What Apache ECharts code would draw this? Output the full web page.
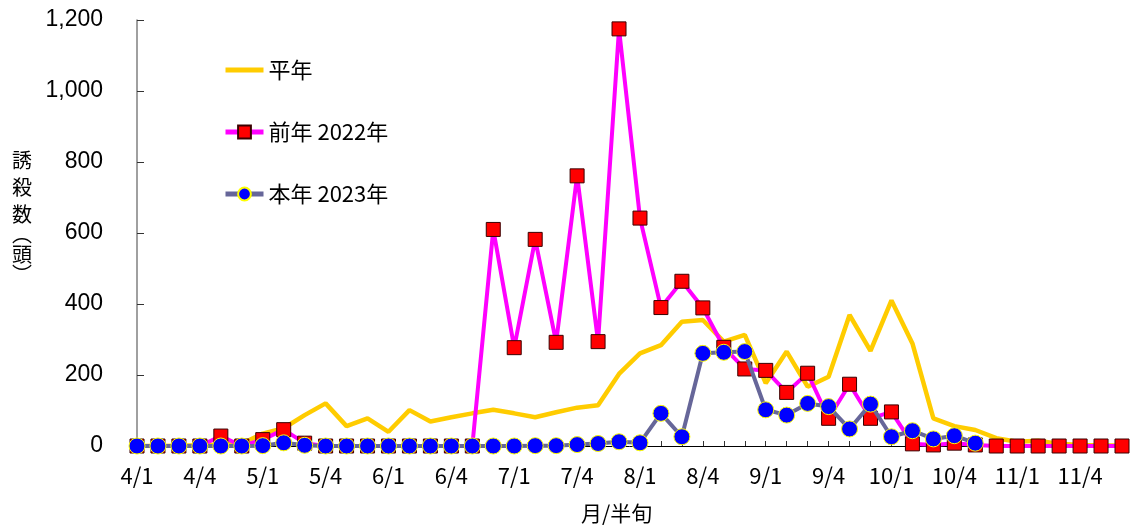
<!DOCTYPE html>
<html>
<head>
<meta charset="utf-8">
<script src="https://cdn.jsdelivr.net/npm/echarts@6/dist/echarts.min.js"></script>
<style>
  html, body { margin: 0; padding: 0; background: #ffffff; }
  #chart { width: 1132px; height: 528px; }
</style>
</head>
<body>
<div id="chart"></div>
<script>
// 半旬 (5-day period) categories, April to November
const months = [4, 5, 6, 7, 8, 9, 10, 11];
const periods = [1, 2, 3, 4, 5, 6];
const categories = [];
months.forEach(m => periods.forEach(p => categories.push(m + '/' + p)));

// 平年 (average year)
const normalYear = [
  0, 0, 1, 2, 4, 6,
  35, 50, 87, 120, 56, 78,
  40, 101, 69, 81, 92, 102,
  92, 81, 95, 108, 115, 203,
  261, 284, 350, 355, 294, 313,
  177, 266, 167, 195, 369, 268,
  410, 289, 78, 56, 45, 22,
  12, 15, 6, 3, 2, 1
];

// 前年 2022年
const prevYear = [
  0, 0, 0, 0, 28, 0,
  18, 46, 8, 0, 0, 0,
  0, 0, 0, 0, 0, 610,
  277, 582, 292, 761, 294, 1175,
  642, 390, 464, 389, 278, 217,
  213, 151, 205, 78, 174, 78,
  96, 6, 3, 8, 3, 0,
  0, 0, 0, 0, 0, 0
];

// 本年 2023年 (up to 10/5)
const thisYear = [
  0, 0, 0, 0, 0, 0,
  1, 9, 2, 0, 0, 0,
  0, 0, 0, 0, 0, 0,
  0, 1, 1, 4, 7, 12,
  9, 92, 26, 261, 264, 266,
  102, 87, 120, 111, 48, 118,
  26, 43, 20, 29, 8, null,
  null, null, null, null, null, null
];

const seriesNames = ['平年', '前年 2022年', '本年 2023年'];
const yTicks = { min: 0, max: 1200, step: 200 };

const cjk = '"Noto Sans CJK JP", "Noto Sans CJK SC", sans-serif';
const latin = '"Liberation Sans", Arial, sans-serif';

const chart = echarts.init(document.getElementById('chart'), null, { renderer: 'canvas' });

chart.setOption({
  animation: false,
  backgroundColor: '#ffffff',
  grid: { left: 137, right: 10, top: 20, bottom: 82, containLabel: false },
  legend: {
    orient: 'vertical',
    left: 218,
    top: 54,
    itemGap: 40,
    itemWidth: 38,
    itemHeight: 16,
    data: [
      { name: seriesNames[0], itemStyle: { opacity: 0 }, lineStyle: { width: 5 } },
      { name: seriesNames[1], lineStyle: { width: 5 } },
      { name: seriesNames[2], lineStyle: { width: 5 } }
    ],
    textStyle: { fontFamily: cjk, fontSize: 22, color: '#000000' }
  },
  xAxis: {
    type: 'category',
    boundaryGap: false,
    data: categories,
    axisLine: { lineStyle: { color: '#000000', width: 1 } },
    axisTick: { show: true, inside: true, length: 5, interval: 0, lineStyle: { color: '#333333' } },
    axisLabel: {
      interval: 2,
      margin: 19,
      fontFamily: cjk,
      fontSize: 22,
      color: '#000000'
    },
    splitLine: { show: false }
  },
  yAxis: {
    type: 'value',
    min: yTicks.min,
    max: yTicks.max,
    interval: yTicks.step,
    axisLine: { show: true, lineStyle: { color: '#808080', width: 1.5 } },
    axisTick: { show: true, inside: true, length: 7, lineStyle: { color: '#333333' } },
    axisLabel: {
      margin: 34,
      fontFamily: latin,
      fontSize: 23,
      color: '#000000',
      formatter: v => v.toLocaleString('en-US')
    },
    splitLine: { show: false }
  },
  graphic: [
    {
      type: 'text',
      left: 12,
      top: 150,
      style: {
        text: '{c|誘}\n{c|殺}\n{c|数}\n{p|︵}\n{c|頭}\n{p|︶}',
        rich: {
          c: { fontFamily: cjk, fontSize: 20, lineHeight: 27, fill: '#000000', align: 'center' },
          p: { fontFamily: cjk, fontSize: 20, lineHeight: 13, fill: '#000000', align: 'center' }
        },
        fill: '#000000'
      }
    },
    {
      type: 'text',
      left: 581,
      top: 503,
      style: {
        text: '月/半旬',
        fontFamily: cjk,
        fontSize: 21,
        fill: '#000000'
      }
    }
  ],
  series: [
    {
      name: seriesNames[0],
      type: 'line',
      data: normalYear,
      symbol: 'none',
      lineStyle: { color: '#FFCC00', width: 4.5 },
      itemStyle: { color: '#FFCC00' },
      z: 2
    },
    {
      name: seriesNames[1],
      type: 'line',
      data: prevYear,
      symbol: 'rect',
      symbolSize: 14,
      showAllSymbol: true,
      lineStyle: { color: '#FF00FF', width: 4 },
      itemStyle: { color: '#FF0000', borderColor: '#3a0000', borderWidth: 1 },
      z: 3
    },
    {
      name: seriesNames[2],
      type: 'line',
      data: thisYear,
      symbol: 'circle',
      symbolSize: 16,
      showAllSymbol: true,
      lineStyle: { color: '#666699', width: 4 },
      itemStyle: { color: '#0000FF', borderColor: '#FFFF00', borderWidth: 1 },
      z: 4
    }
  ]
});
</script>
</body>
</html>
